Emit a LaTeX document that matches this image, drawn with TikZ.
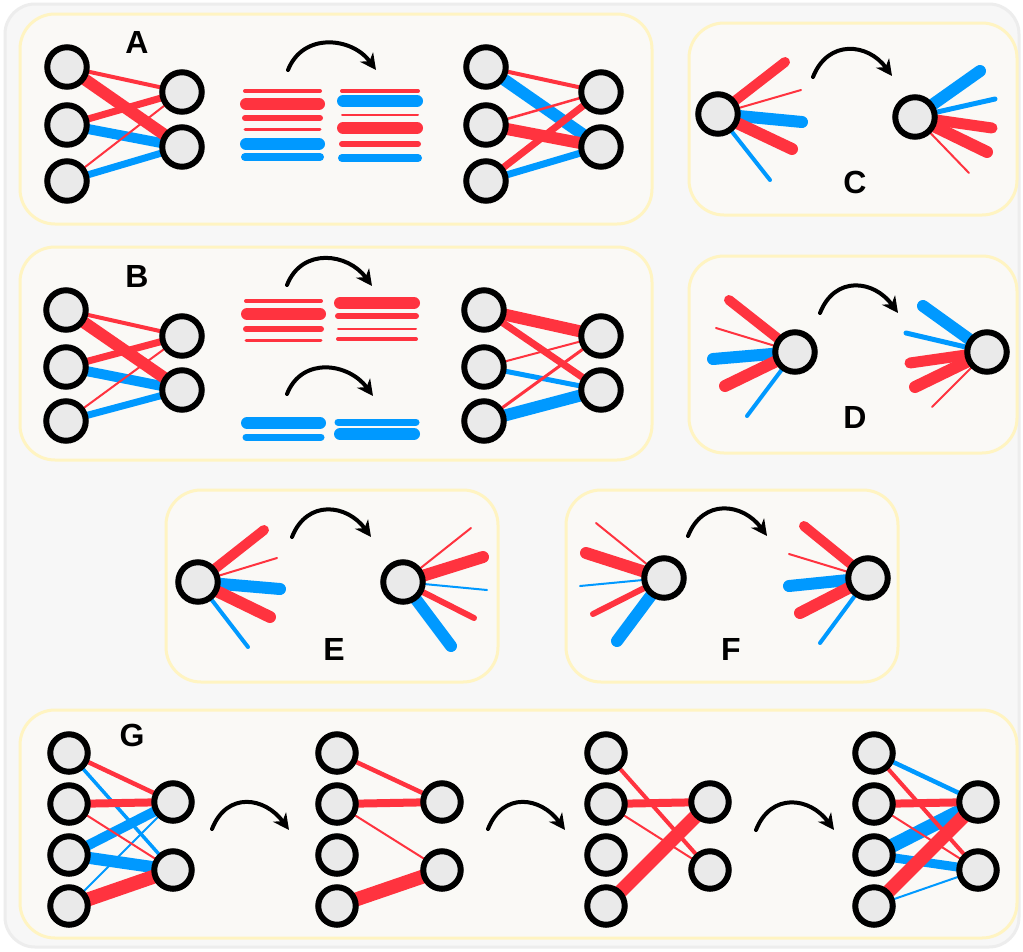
\documentclass[tikz,border=0pt]{standalone}
\usepackage{fontspec}
\setmainfont{Liberation Sans}
\usetikzlibrary{arrows.meta}
\definecolor{myred}{HTML}{FF333F}
\definecolor{myblue}{HTML}{0099FF}
\definecolor{nodefill}{HTML}{EAEAEA}
\definecolor{panelfill}{HTML}{FAF9F6}
\definecolor{panelborder}{HTML}{FFF4C2}
\definecolor{outerfill}{HTML}{F7F7F7}
\definecolor{outerborder}{HTML}{EDEDED}
\pgfdeclarelayer{bg}
\pgfdeclarelayer{edges}
\pgfsetlayers{bg,edges,main}
\tikzset{
  nd/.style={circle,draw=black,line width=6pt,fill=nodefill,minimum size=39.5pt,inner sep=0pt},
  ndg/.style={nd,minimum size=37.5pt},
  panel/.style={draw=panelborder,line width=3pt,fill=panelfill,rounded corners=35pt},
  lbl/.style={font=\fontsize{32}{32}\selectfont\bfseries,inner sep=0pt},
  redl/.style={draw=myred,line width=#1},
  bluel/.style={draw=myblue,line width=#1},
  spk/.style={line cap=round},
  barl/.style={line cap=round},
  carrow/.style={line width=4pt,line cap=round,-{Stealth[length=16pt,width=16pt,inset=5pt]}},
}
\newcommand{\curvarrow}[2]{\draw[carrow] (#1) .. controls +(15,-38) and +(-24,-33) .. (#2);}
\begin{document}
\begin{tikzpicture}[x=1pt,y=-1pt]
\useasboundingbox (0,0) rectangle (1023,951);
\begin{pgfonlayer}{bg}
\fill[white] (0,0) rectangle (1023,951);
\path[fill=outerfill,draw=outerborder,line width=3pt,rounded corners=30pt] (5,4) rectangle (1019,947);
\path[panel] (20,14) rectangle (652,224);
\path[panel] (20,247) rectangle (652,460);
\path[panel] (689,23) rectangle (1017,215);
\path[panel] (689,256) rectangle (1017,453);
\path[panel] (166,490) rectangle (498,682);
\path[panel] (566,490) rectangle (898,682);
\path[panel] (20,710) rectangle (1017,938);
\end{pgfonlayer}

% ---------- labels
\node[lbl] (labA) at (137,42) {A};
\node[lbl] (labB) at (137,276) {B};
\node[lbl] (labC) at (855,182) {C};
\node[lbl] (labD) at (855,417) {D};
\node[lbl] (labE) at (334,649) {E};
\node[lbl] (labF) at (731,649) {F};
\node[lbl] (labG) at (132,735) {G};

% ---------- panel A nodes
\node[nd] (a1) at (67,67) {};
\node[nd] (a2) at (67,125) {};
\node[nd] (a3) at (67,181) {};
\node[nd] (a4) at (182,92) {};
\node[nd] (a5) at (182,147) {};
\node[nd] (a6) at (486,67) {};
\node[nd] (a7) at (486,125) {};
\node[nd] (a8) at (486,181) {};
\node[nd] (a9) at (601,92) {};
\node[nd] (a10) at (601,147) {};
% ---------- panel B nodes
\node[nd] (b1) at (66,310) {};
\node[nd] (b2) at (66,367) {};
\node[nd] (b3) at (66,421) {};
\node[nd] (b4) at (182,336) {};
\node[nd] (b5) at (182,390) {};
\node[nd] (b6) at (484,310) {};
\node[nd] (b7) at (484,367) {};
\node[nd] (b8) at (484,421) {};
\node[nd] (b9) at (601,336) {};
\node[nd] (b10) at (601,390) {};
% ---------- C-F nodes
\node[nd] (c1) at (718,114) {};
\node[nd] (c2) at (915,117) {};
\node[nd] (d1) at (795,352) {};
\node[nd] (d2) at (987,352) {};
\node[nd] (e1) at (198,582) {};
\node[nd] (e2) at (403,582) {};
\node[nd] (f1) at (664,578) {};
\node[nd] (f2) at (868,578) {};
% ---------- G nodes
\foreach \gx/\gr/\p in {69/173/g, 337/442/h, 606/710/i, 874/978/j}{
  \node[ndg] (\p1) at (\gx,753) {};
  \node[ndg] (\p2) at (\gx,804) {};
  \node[ndg] (\p3) at (\gx,855) {};
  \node[ndg] (\p4) at (\gx,906) {};
  \node[ndg] (\p5) at (\gr,802) {};
  \node[ndg] (\p6) at (\gr,870) {};
}

% ---------- arrows
\coordinate (aA0) at (288,70); \coordinate (aA1) at (376,70);
\coordinate (aB0) at (287,285); \coordinate (aB1) at (372,286);
\coordinate (aB2) at (287,394); \coordinate (aB3) at (373,396);
\coordinate (aC0) at (813,77); \coordinate (aC1) at (892,76);
\coordinate (aD0) at (820,313); \coordinate (aD1) at (898,313);
\coordinate (aE0) at (292,537); \coordinate (aE1) at (371,537);
\coordinate (aF0) at (688,536); \coordinate (aF1) at (767,536);
\coordinate (aG0) at (212,829); \coordinate (aG1) at (289,830);
\coordinate (aG2) at (488,829); \coordinate (aG3) at (565,830);
\coordinate (aG4) at (756,830); \coordinate (aG5) at (834,830);
\curvarrow{aA0}{aA1}
\curvarrow{aB0}{aB1}
\curvarrow{aB2}{aB3}
\curvarrow{aC0}{aC1}
\curvarrow{aD0}{aD1}
\curvarrow{aE0}{aE1}
\curvarrow{aF0}{aF1}
\curvarrow{aG0}{aG1}
\curvarrow{aG2}{aG3}
\curvarrow{aG4}{aG5}

\begin{pgfonlayer}{edges}
% ---- A left
\draw[bluel=10pt] (a2.center) -- (a5.center);
\draw[bluel=7pt] (a3.center) -- (a5.center);
\draw[redl=4pt] (a1.center) -- (a4.center);
\draw[redl=12pt] (a1.center) -- (a5.center);
\draw[redl=7pt] (a2.center) -- (a4.center);
\draw[redl=2pt] (a3.center) -- (a4.center);
% ---- A right
\draw[bluel=12pt] (a6.center) -- (a10.center);
\draw[bluel=7pt] (a8.center) -- (a10.center);
\draw[redl=4pt] (a6.center) -- (a9.center);
\draw[redl=2.5pt] (a7.center) -- (a9.center);
\draw[redl=12pt] (a7.center) -- (a10.center);
\draw[redl=7pt] (a8.center) -- (a9.center);
% ---- A bars
\draw[barl,redl=4pt] (245,91) -- (320,91);
\draw[barl,redl=12pt] (246,104) -- (319,104);
\draw[barl,redl=6pt] (245,118) -- (320,118);
\draw[barl,redl=3pt] (245,129) -- (320,129);
\draw[barl,bluel=12pt] (246,144) -- (319,144);
\draw[barl,bluel=8pt] (245,157) -- (320,157);
\draw[barl,redl=4pt] (342,91) -- (418,91);
\draw[barl,bluel=12pt] (343,101) -- (417,101);
\draw[barl,redl=2pt] (342,115) -- (418,115);
\draw[barl,redl=12pt] (343,128) -- (417,128);
\draw[barl,redl=6pt] (342,144) -- (418,144);
\draw[barl,bluel=8pt] (342,158) -- (418,158);
% ---- B left
\draw[bluel=10pt] (b2.center) -- (b5.center);
\draw[bluel=7pt] (b3.center) -- (b5.center);
\draw[redl=4pt] (b1.center) -- (b4.center);
\draw[redl=12pt] (b1.center) -- (b5.center);
\draw[redl=7pt] (b2.center) -- (b4.center);
\draw[redl=2pt] (b3.center) -- (b4.center);
% ---- B right
\draw[bluel=5pt] (b7.center) -- (b10.center);
\draw[bluel=12pt] (b8.center) -- (b10.center);
\draw[redl=12pt] (b6.center) -- (b9.center);
\draw[redl=7pt] (b6.center) -- (b10.center);
\draw[redl=2pt] (b7.center) -- (b9.center);
\draw[redl=3pt] (b8.center) -- (b9.center);
% ---- B bars
\draw[barl,redl=4pt] (246,301) -- (321,301);
\draw[barl,redl=12pt] (247,314) -- (320,314);
\draw[barl,redl=6pt] (246,329) -- (321,329);
\draw[barl,redl=3pt] (246,340) -- (321,340);
\draw[barl,redl=12pt] (340,303) -- (414,303);
\draw[barl,redl=6pt] (338,316) -- (416,316);
\draw[barl,redl=2pt] (338,329) -- (416,329);
\draw[barl,redl=4pt] (338,339) -- (416,339);
\draw[barl,bluel=12pt] (247,423) -- (320,423);
\draw[barl,bluel=7pt] (246,437) -- (321,437);
\draw[barl,bluel=7pt] (338,422) -- (416,422);
\draw[barl,bluel=12pt] (340,434) -- (414,434);
% ---- C
\draw[spk,redl=10pt] (c1.center) -- ++(67,-52);
\draw[spk,redl=2pt] (c1.center) -- ++(83,-24);
\draw[spk,bluel=12pt] (c1.center) -- ++(84,8);
\draw[spk,redl=12pt] (c1.center) -- ++(74,35);
\draw[spk,bluel=4pt] (c1.center) -- ++(52,66);
\draw[spk,bluel=12pt] (c2.center) -- ++(65,-46);
\draw[spk,bluel=5pt] (c2.center) -- ++(80,-18);
\draw[spk,redl=11pt] (c2.center) -- ++(77,11);
\draw[spk,redl=12pt] (c2.center) -- ++(72,35);
\draw[spk,redl=2pt] (c2.center) -- ++(54,56);
% ---- D
\draw[spk,redl=10pt] (d1.center) -- ++(-66,-52);
\draw[spk,redl=2pt] (d1.center) -- ++(-79,-24);
\draw[spk,bluel=12pt] (d1.center) -- ++(-82,7);
\draw[spk,redl=12pt] (d1.center) -- ++(-70,34);
\draw[spk,bluel=4pt] (d1.center) -- ++(-48,64);
\draw[spk,bluel=12pt] (d2.center) -- ++(-64,-46);
\draw[spk,bluel=5pt] (d2.center) -- ++(-81,-19);
\draw[spk,redl=11pt] (d2.center) -- ++(-77,11);
\draw[spk,redl=12pt] (d2.center) -- ++(-72,35);
\draw[spk,redl=2pt] (d2.center) -- ++(-55,55);
% ---- E
\draw[spk,redl=10pt] (e1.center) -- ++(66,-52);
\draw[spk,redl=2pt] (e1.center) -- ++(79,-24);
\draw[spk,bluel=12pt] (e1.center) -- ++(82,7);
\draw[spk,redl=12pt] (e1.center) -- ++(72,35);
\draw[spk,bluel=4pt] (e1.center) -- ++(50,65);
\draw[spk,redl=2pt] (e2.center) -- ++(68,-54);
\draw[spk,redl=12pt] (e2.center) -- ++(80,-25);
\draw[spk,bluel=2pt] (e2.center) -- ++(84,8);
\draw[spk,redl=6pt] (e2.center) -- ++(71,36);
\draw[spk,bluel=12pt] (e2.center) -- ++(48,64);
% ---- F
\draw[spk,redl=2pt] (f1.center) -- ++(-68,-55);
\draw[spk,redl=12pt] (f1.center) -- ++(-78,-25);
\draw[spk,bluel=2pt] (f1.center) -- ++(-84,8);
\draw[spk,redl=6pt] (f1.center) -- ++(-71,36);
\draw[spk,bluel=12pt] (f1.center) -- ++(-47,63);
\draw[spk,redl=10pt] (f2.center) -- ++(-64,-52);
\draw[spk,redl=2pt] (f2.center) -- ++(-79,-24);
\draw[spk,bluel=12pt] (f2.center) -- ++(-79,8);
\draw[spk,redl=12pt] (f2.center) -- ++(-68,35);
\draw[spk,bluel=4pt] (f2.center) -- ++(-48,65);
% ---- G1
\draw[bluel=3.5pt] (g1.center) -- (g6.center);
\draw[bluel=10pt] (g3.center) -- (g5.center);
\draw[bluel=12pt] (g3.center) -- (g6.center);
\draw[bluel=2pt] (g4.center) -- (g5.center);
\draw[redl=4.5pt] (g1.center) -- (g5.center);
\draw[redl=8pt] (g2.center) -- (g5.center);
\draw[redl=2pt] (g2.center) -- (g6.center);
\draw[redl=14pt] (g4.center) -- (g6.center);
% ---- G2
\draw[redl=4.5pt] (h1.center) -- (h5.center);
\draw[redl=8pt] (h2.center) -- (h5.center);
\draw[redl=2pt] (h2.center) -- (h6.center);
\draw[redl=14pt] (h4.center) -- (h6.center);
% ---- G3
\draw[redl=4pt] (i1.center) -- (i6.center);
\draw[redl=8pt] (i2.center) -- (i5.center);
\draw[redl=2pt] (i2.center) -- (i6.center);
\draw[redl=14pt] (i4.center) -- (i5.center);
% ---- G4
\draw[bluel=4.5pt] (j1.center) -- (j5.center);
\draw[bluel=14pt] (j3.center) -- (j5.center);
\draw[bluel=9pt] (j3.center) -- (j6.center);
\draw[bluel=2pt] (j4.center) -- (j6.center);
\draw[redl=4pt] (j1.center) -- (j6.center);
\draw[redl=8pt] (j2.center) -- (j5.center);
\draw[redl=2pt] (j2.center) -- (j6.center);
\draw[redl=14pt] (j4.center) -- (j5.center);
\end{pgfonlayer}
\end{tikzpicture}
\end{document}
